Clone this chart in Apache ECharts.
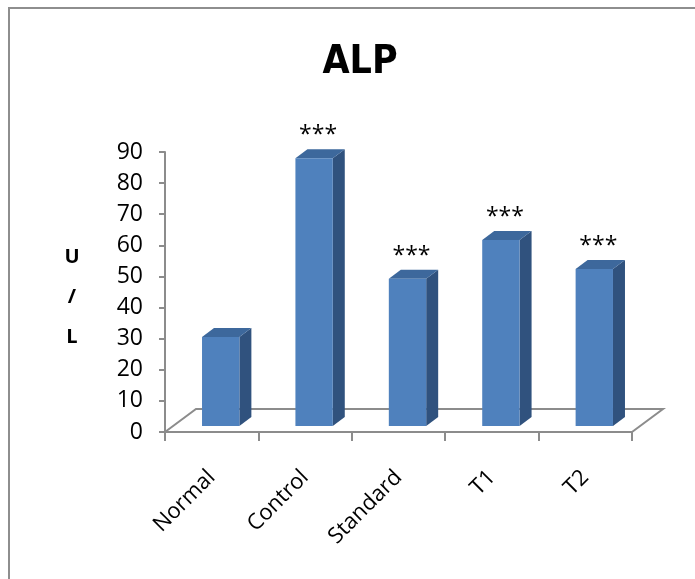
<!DOCTYPE html>
<html>
<head>
<meta charset="utf-8">
<title>ALP</title>
<script src="https://cdn.jsdelivr.net/npm/echarts@6/dist/echarts.min.js"></script>
<style>
  html, body { margin: 0; padding: 0; background: #ffffff; }
  #chart { width: 695px; height: 579px; }
</style>
</head>
<body>
<div id="chart"></div>
<script>
// Serum ALP (U/L) per group
const categories = ['Normal', 'Control', 'Standard', 'T1', 'T2'];
const alpValues = [28.6, 86.1, 47.3, 59.8, 50.5];
const significance = ['', '***', '***', '***', '***'];
const yMin = 0, yMax = 90, yStep = 10;
const unitLabel = 'U\n/\nL';

// Oblique projection used for the pseudo-3D plot box
const FLOOR_DX = 31, FLOOR_DY = -23;   // full depth of the floor
const PLANE_DX = 9, PLANE_DY = -6;     // depth plane the columns stand on
const BAR_DX = 12, BAR_DY = -9;        // depth of each column

const FRONT = '#4f81bd', SIDE = '#30527e', TOP = '#3d689c';
const AXIS_GREY = '#8c8c8c';
const LABEL_FONT = '"Open Sans", "Noto Sans", sans-serif';

const chart = echarts.init(document.getElementById('chart'), null, { renderer: 'canvas' });

// Back edge and side edges of the floor; the front edge is the category axis line
function renderFloor(params, api) {
  const cs = params.coordSys;
  const x0 = cs.x, x1 = cs.x + cs.width, y0 = cs.y + cs.height;
  return {
    type: 'polyline',
    silent: true,
    shape: { points: [[x0, y0], [x0 + FLOOR_DX, y0 + FLOOR_DY], [x1 + FLOOR_DX, y0 + FLOOR_DY], [x1, y0]] },
    style: { stroke: AXIS_GREY, lineWidth: 2, fill: null }
  };
}

// One column: front, right side and top face, plus its significance mark
function renderColumn(params, api) {
  const i = api.value(0), v = api.value(1);
  const top = api.coord([i, v]);
  const base = api.coord([i, 0]);
  const w = api.size([1, 0])[0] * 0.4;
  const xl = top[0] - w / 2 + PLANE_DX, xr = top[0] + w / 2 + PLANE_DX;
  const yt = top[1] + PLANE_DY, yb = base[1] + PLANE_DY;
  return {
    type: 'group',
    children: [
      { type: 'polygon', shape: { points: [[xr, yt], [xr + BAR_DX, yt + BAR_DY], [xr + BAR_DX, yb + BAR_DY], [xr, yb]] },
        style: { fill: SIDE } },
      { type: 'polygon', shape: { points: [[xl, yt], [xl + BAR_DX, yt + BAR_DY], [xr + BAR_DX, yt + BAR_DY], [xr, yt]] },
        style: { fill: TOP } },
      { type: 'rect', shape: { x: xl, y: yt, width: xr - xl, height: yb - yt },
        style: { fill: FRONT } },
      { type: 'text',
        style: { text: significance[i], x: (xl + xr) / 2 + 4, y: yt + BAR_DY - 2,
                 align: 'center', verticalAlign: 'bottom',
                 font: '23px ' + LABEL_FONT, fill: '#000' } }
    ]
  };
}

chart.setOption({
  animation: false,
  backgroundColor: '#ffffff',
  title: {
    text: 'ALP',
    left: 355,
    top: 38,
    textAlign: 'center',
    textStyle: { fontFamily: '"Liberation Sans Narrow", "DejaVu Sans Condensed", sans-serif',
                 fontSize: 39, fontWeight: 'bold', color: '#000' }
  },
  graphic: [
    { type: 'rect', silent: true, z: -10,
      shape: { x: 9, y: 8, width: 720, height: 620 },
      style: { fill: null, stroke: '#8e8e8e', lineWidth: 2 } },
    // vertical unit label beside the value axis
    { type: 'text', silent: true,
      style: { text: unitLabel, x: 72, y: 297, align: 'center', verticalAlign: 'middle',
               font: 'bold 20px ' + LABEL_FONT, lineHeight: 40, fill: '#000' } }
  ],
  grid: { left: 165, right: 63, top: 152, bottom: 147 },
  xAxis: {
    type: 'category',
    data: categories,
    axisLine: { lineStyle: { color: AXIS_GREY, width: 2 } },
    axisTick: { show: true, length: 9, lineStyle: { color: AXIS_GREY, width: 2 } },
    axisLabel: { rotate: 45, margin: 42, fontFamily: LABEL_FONT, fontSize: 22, color: '#000' },
    splitLine: { show: false }
  },
  yAxis: {
    type: 'value',
    min: yMin, max: yMax, interval: yStep,
    axisLine: { show: true, lineStyle: { color: AXIS_GREY, width: 2 } },
    axisTick: { show: true, length: 6, lineStyle: { color: AXIS_GREY, width: 2 } },
    axisLabel: { margin: 22, fontFamily: LABEL_FONT, fontSize: 23, color: '#000' },
    splitLine: { show: false }
  },
  series: [
    { type: 'custom', name: 'floor', z: 1, renderItem: renderFloor, data: [[0, 0]] },
    { type: 'custom', name: 'ALP', z: 2, renderItem: renderColumn,
      encode: { x: 0, y: 1 },
      data: alpValues.map((v, i) => [i, v]) }
  ]
});
</script>
</body>
</html>
